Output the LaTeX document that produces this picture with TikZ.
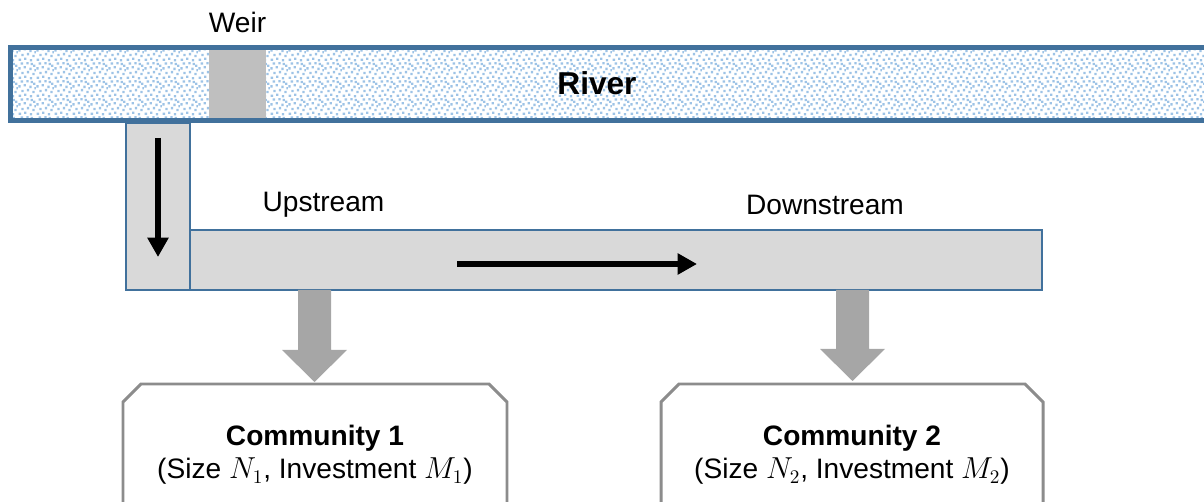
\documentclass[tikz,border=0pt]{standalone}
\usepackage{fontspec}
\setmainfont{Liberation Sans}
\usetikzlibrary{arrows.meta,patterns}

\definecolor{riverblue}{HTML}{41719C}
\definecolor{riverdot}{HTML}{9DC3E6}
\definecolor{channelfill}{HTML}{D9D9D9}
\definecolor{weirgray}{HTML}{BFBFBF}
\definecolor{flowgray}{HTML}{A6A6A6}
\definecolor{boxgray}{HTML}{8C8C8C}

% scattered stipple used for the water surface
\pgfdeclarepatternformonly{stipple}{\pgfqpoint{0pt}{0pt}}{\pgfqpoint{10pt}{10pt}}{\pgfqpoint{10pt}{10pt}}{%
  \foreach \px/\py in {0.4/0.6, 3.6/1.2, 6.9/0.3, 1.9/3.4, 5.2/3.9, 8.4/2.8,
                       0.2/6.1, 3.3/6.7, 6.6/5.8, 8.8/7.6, 1.6/8.9, 4.9/9.1,
                       7.3/8.6, 9.5/5.0}{%
    \pgfpathrectangle{\pgfqpoint{\px pt}{\py pt}}{\pgfqpoint{1.35pt}{1.35pt}}%
  }%
  \pgfusepath{fill}%
}

\tikzset{
  riverband/.style={draw=riverblue, line width=2.8pt, fill=white},
  channel/.style={draw=riverblue, line width=0.9pt, fill=channelfill},
  flow/.style={line width=3pt, -{Triangle[length=11pt,width=11.5pt]}},
  outflow/.style={fill=flowgray, draw=none},
  community/.style={draw=boxgray, line width=1.7pt, fill=white, line join=miter},
  label/.style={font=\fontsize{16}{19}\selectfont, inner sep=0pt},
  boxtext/.style={font=\fontsize{16}{19}\selectfont, align=center, inner sep=0pt}
}

\begin{document}
\begin{tikzpicture}[x=0.02cm, y=-0.02cm]
  \useasboundingbox (0,0) rectangle (1204,502);
  \clip (0,0) rectangle (1204,502);

  % river band running off to the right
  \path[fill=white] (10.5,47.5) rectangle (1230,120.5);
  \path[pattern=stipple, pattern color=riverdot] (13,50) rectangle (1230,118);
  \draw[riverblue, line width=2.8pt] (1230,47.5) -- (10.5,47.5) -- (10.5,120.5) -- (1230,120.5);
  \fill[weirgray] (209,50) rectangle (266,118);
  \node[label] (weir) at (237.5,22) {Weir};
  \node[font=\bfseries\fontsize{18}{22}\selectfont, inner sep=0pt] (river) at (597,83) {River};

  % diversion channel
  \draw[channel] (126,123) rectangle (190,290);
  \draw[channel] (190,230) rectangle (1042,290);
  \coordinate (dtop) at (158,138);
  \coordinate (dbot) at (158,257);
  \draw[flow] (dtop) -- (dbot);
  \coordinate (hleft) at (457,264);
  \coordinate (hright) at (697,264);
  \draw[flow] (hleft) -- (hright);
  \node[label] (up) at (323.5,205) {Upstream};
  \node[label] (down) at (825,205) {Downstream};

  % water delivered to each community
  \fill[outflow] (298,290) -- (331,290) -- (331,350) -- (347,350) -- (314.5,382)
                 -- (282,350) -- (298,350) -- cycle;
  \fill[outflow] (836,290) -- (869,290) -- (869,349) -- (885,349) -- (852.5,381)
                 -- (820,349) -- (836,349) -- cycle;

  % communities
  \draw[community] (123,520) -- (123,402) -- (141,384) -- (489,384) -- (507,402) -- (507,520);
  \draw[community] (661,520) -- (661,402) -- (679,384) -- (1025,384) -- (1043,402) -- (1043,520);
  \node[boxtext] (c1) at (315,455) {\textbf{Community 1}\\(Size $N_1$, Investment $M_1$)};
  \node[boxtext] (c2) at (852,455) {\textbf{Community 2}\\(Size $N_2$, Investment $M_2$)};
\end{tikzpicture}
\end{document}
